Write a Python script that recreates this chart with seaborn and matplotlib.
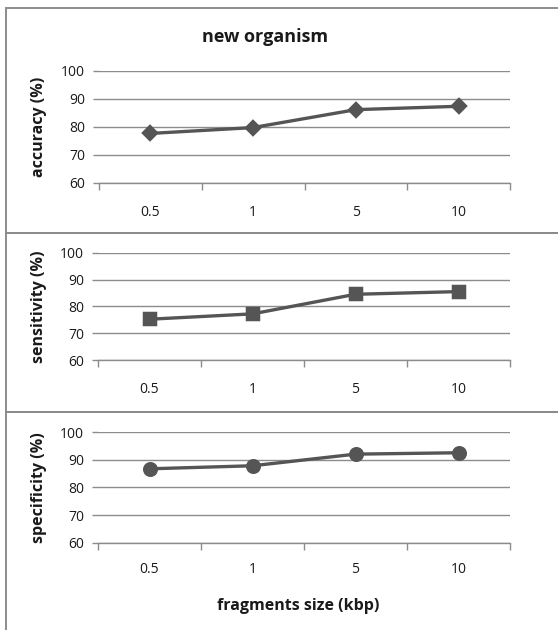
import matplotlib
matplotlib.use("Agg")
import matplotlib.pyplot as plt
import seaborn as sns
import pandas as pd
from matplotlib.patches import Rectangle
from matplotlib.ticker import FixedLocator, NullFormatter

sizes = ["0.5", "1", "5", "10"]
accuracy = [77.7, 79.8, 86.2, 87.4]
sensitivity = [75.2, 77.2, 84.5, 85.5]
specificity = [86.7, 87.8, 92.0, 92.5]
ylabels = ["accuracy (%)", "sensitivity (%)", "specificity (%)"]
markers = ["D", "s", "o"]
marker_sizes = [7.5, 8, 9]
yticks = [60, 70, 80, 90, 100]
title = "new organism"
xlabel = "fragments size (kbp)"

sns.set_theme(style="white")
FONT = ["Open Sans", "DejaVu Sans"]
plt.rcParams["font.family"] = FONT

W, H = 558, 630
fig = plt.figure(figsize=(W / 100, H / 100), dpi=100)
fig.patch.set_facecolor("white")

line_col = "#555555"
grid_col = "#8c8c8c"
border_col = "#8c8c8c"
text_col = "#1a1a1a"

# panel borders (pixel boxes -> figure fractions)
panels = [(8, 233), (233, 412), (412, 660)]
for top, bot in panels:
    fig.patches.append(Rectangle((6 / W, 1 - bot / H), 1.2, (bot - top) / H,
                                 transform=fig.transFigure, fill=False,
                                 edgecolor=border_col, linewidth=1.4, zorder=0))

# axes boxes in pixels: (left, right, top(100), bottom(60))
boxes = [(99, 510, 71, 183), (98, 510, 252.7, 360), (98, 510, 432, 542.7)]
label_pads = [16, 16, 14]
series = [accuracy, sensitivity, specificity]

for i, (box, vals) in enumerate(zip(boxes, series)):
    l, r, t, b = box
    ax = fig.add_axes([l / W, 1 - b / H, (r - l) / W, (b - t) / H])
    df = pd.DataFrame({"size": sizes, "value": vals})
    sns.pointplot(data=df, x="size", y="value", order=sizes, color=line_col,
                  markers=markers[i], markersize=marker_sizes[i], linewidth=2.4, ax=ax)
    ax.set_ylim(60, 100)
    ax.set_xlim(-0.5, 3.5)
    ax.set_yticks(yticks)
    ax.yaxis.grid(True, color=grid_col, linewidth=1.0)
    ax.set_axisbelow(True)
    for s in ["left", "top", "right"]:
        ax.spines[s].set_visible(False)
    ax.spines["bottom"].set_color(grid_col)
    ax.spines["bottom"].set_linewidth(1.0)
    ax.tick_params(axis="y", which="major", length=4, width=1.0, color=grid_col,
                   direction="out", pad=6, labelsize=10, labelcolor=text_col, left=True)
    # x: boundary ticks (major, no labels), category labels (minor, no tick)
    ax.set_xticks([0, 1, 2, 3])
    ax.set_xticklabels(sizes)
    ax.xaxis.set_minor_locator(FixedLocator([-0.5, 0.5, 1.5, 2.5, 3.5]))
    ax.xaxis.set_minor_formatter(NullFormatter())
    ax.tick_params(axis="x", which="major", length=0, pad=label_pads[i], labelsize=10,
                   labelcolor=text_col, bottom=True)
    ax.tick_params(axis="x", which="minor", length=5, width=1.0, color=grid_col,
                   direction="out", bottom=True)
    ax.set_xlabel("")
    ax.set_ylabel(ylabels[i], fontsize=11.5, fontweight="bold", color=text_col)
    ax.yaxis.set_label_coords((47 - l) / (r - l), 0.5)
    ax.set_facecolor("none")

fig.text(265 / W, 1 - 37 / H, title, ha="center", va="center", fontsize=13,
         fontweight="bold", color=text_col)
fig.text(298 / W, 1 - 606 / H, xlabel, ha="center", va="center", fontsize=11.5,
         fontweight="bold", color=text_col)

fig.savefig("out.png", dpi=100, facecolor="white")
